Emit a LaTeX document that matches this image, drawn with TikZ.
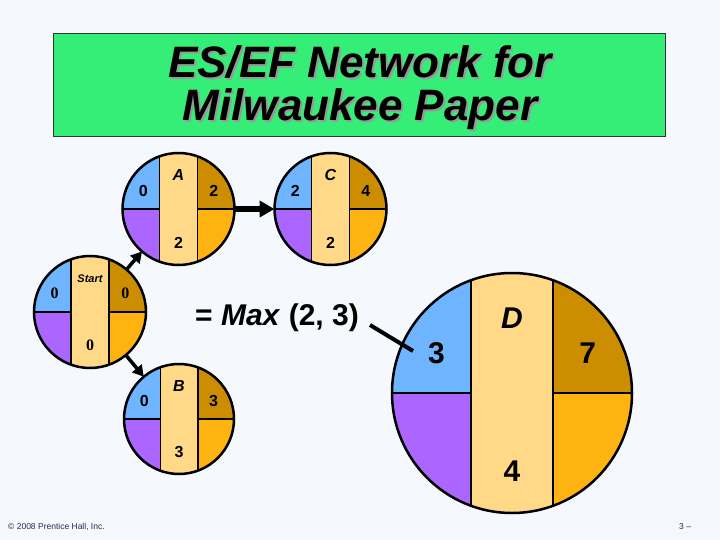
\documentclass[tikz,border=0pt]{standalone}
\usepackage{fontspec}
\setmainfont{Liberation Sans}
\newfontfamily\serifb{Liberation Serif}
\usetikzlibrary{arrows.meta}
\definecolor{bgc}{RGB}{245,248,252}
\definecolor{titlegreen}{RGB}{52,238,120}
\definecolor{cblue}{RGB}{110,180,255}
\definecolor{cpurple}{RGB}{170,102,255}
\definecolor{cgold}{RGB}{204,142,0}
\definecolor{corange}{RGB}{255,179,17}
\definecolor{cstrip}{RGB}{255,217,136}
\definecolor{footc}{RGB}{40,40,90}
\tikzset{
  evnode/.style={circle, draw=black, line width=2.5pt, inner sep=0pt, outer sep=0pt},
  divline/.style={draw=black, line width=1.6pt},
  thinarr/.style={line width=3.5pt, -{Triangle[length=11pt,width=12pt]}},
  thickarr/.style={line width=6pt, -{Triangle[length=15pt,width=16pt]}},
}
\def\evbf{0.6}
\def\evnf{0.6}
\newcommand{\evcirc}[9]{%
  \pgfmathsetmacro\er{#4}%
  \pgfmathsetmacro\es{0.34*#4}%
  \begin{scope}[shift={(#2,#3)}]
    \begin{scope}
      \clip (0,0) circle[radius=\er pt];
      \fill[cblue] (-\er,-\er) rectangle (0,0);
      \fill[cpurple] (-\er,0) rectangle (0,\er);
      \fill[cgold] (0,-\er) rectangle (\er,0);
      \fill[corange] (0,0) rectangle (\er,\er);
      \fill[cstrip] (-\es,-\er) rectangle (\es,\er);
      \draw[divline] (-\es,-\er) -- (-\es,\er) (\es,-\er) -- (\es,\er)
                     (-\er,0) -- (-\es,0) (\es,0) -- (\er,0);
    \end{scope}
    \node[evnode, minimum size={2*\er*1pt}] (#1) at (0,0) {};
    \node[font=#5] (#1-tl) at (-0.63*\er,-0.33*\er) {#6};
    \node[font=#5] (#1-nm) at (0,-\evnf*\er) {#7};
    \node[font=#5] (#1-tr) at (0.63*\er,-0.33*\er) {#8};
    \node[font=#5] (#1-bt) at (0,\evbf*\er) {#9};
  \end{scope}}
\begin{document}
\begin{tikzpicture}[x=1pt,y=-1pt]
\useasboundingbox (0,0) rectangle (720,540);
\fill[bgc] (0,0) rectangle (720,540);
% title
\node[fill=titlegreen, draw=black!80, line width=0.8pt, minimum width=612pt, minimum height=103pt, inner sep=0pt] (title) at (359,84.5) {};
\node[font=\fontsize{44}{43}\selectfont\bfseries\itshape, text=black!40, align=center] (titleshadow) at (362,89.5) {ES/EF Network for\\Milwaukee Paper};
\node[font=\fontsize{44}{43}\selectfont\bfseries\itshape, align=center] (titletext) at (360,87.5) {ES/EF Network for\\Milwaukee Paper};
% circles
\evcirc{S}{90}{312}{56}{\fontsize{16}{16}\selectfont\serifb\bfseries}{0}{{\rmfamily\itshape\fontsize{11}{11}\selectfont Start}}{0}{0}
\evcirc{A}{178.5}{209}{56}{\fontsize{16}{16}\selectfont\bfseries}{0}{{\itshape A}}{2}{2}
\evcirc{C}{330.5}{209}{56}{\fontsize{16}{16}\selectfont\bfseries}{2}{{\itshape C}}{4}{2}
\evcirc{B}{179}{419}{55}{\fontsize{16}{16}\selectfont\bfseries}{0}{{\itshape B}}{3}{3}
\def\evbf{0.65}
\def\evnf{0.625}
\evcirc{D}{512}{393}{120}{\fontsize{30}{30}\selectfont\bfseries}{3}{{\itshape D}}{7}{4}
% arrows
\draw[thinarr] (S) -- (A);
\draw[thinarr] (S) -- (B);
\draw[thickarr] (A) -- (C);
% max text
\node[font=\fontsize{30}{30}\selectfont\bfseries] (maxtxt) at (277,318) {= \textit{Max} (2, 3)};
\coordinate (m1) at (370,325);
\coordinate (m2) at (413,351);
\draw[line width=4pt] (m1) -- (m2);
% footer
\node[font=\fontsize{8.5}{9}\selectfont, text=footc, anchor=west, inner sep=0pt] (foot) at (8,527) {© 2008 Prentice Hall, Inc.};
\node[font=\fontsize{8.5}{9}\selectfont, text=footc, anchor=west, inner sep=0pt] (pg) at (679,527) {3 –};
\end{tikzpicture}
\end{document}
